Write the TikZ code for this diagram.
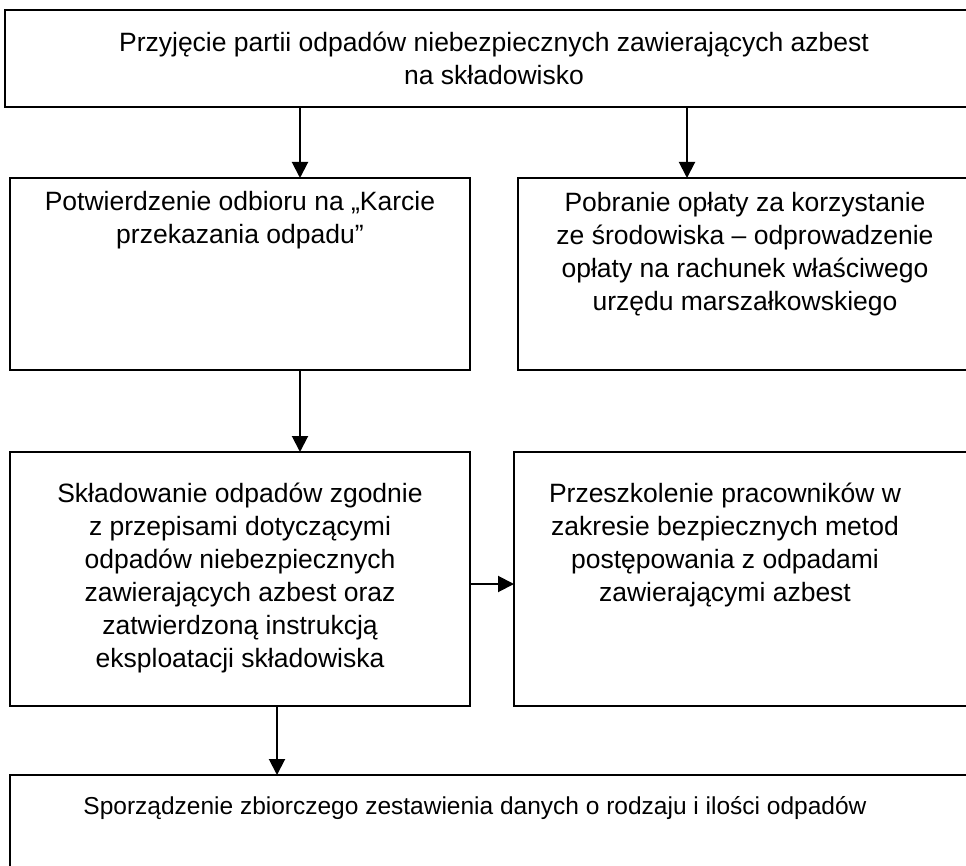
\documentclass[tikz,border=0pt]{standalone}
\usepackage{fontspec}
\setmainfont{Liberation Sans}
\usetikzlibrary{arrows.meta}
\begin{document}
\begin{tikzpicture}[x=1pt,y=-1pt,
  box/.style={draw=black,line width=2pt,anchor=north west,inner sep=0pt,outer sep=0pt},
  txt/.style={align=center,inner sep=0pt,font=\fontsize{26.5}{33}\selectfont},
  arr/.style={line width=2pt,-{Triangle[length=16pt,width=16pt]}}]
\useasboundingbox (0,0) rectangle (966,866);
\clip (0,0) rectangle (966,866);
\fill[white] (0,0) rectangle (966,866);
\node[box,minimum width=1000pt,minimum height=97pt] (top) at (5,10) {};
\node[box,minimum width=460pt,minimum height=192pt] (b2) at (10,178) {};
\node[box,minimum width=500pt,minimum height=192pt] (b3) at (518,178) {};
\node[box,minimum width=460pt,minimum height=254pt] (b4) at (10,452) {};
\node[box,minimum width=500pt,minimum height=254pt] (b5) at (514,452) {};
\node[box,minimum width=1000pt,minimum height=200pt] (b6) at (10,775) {};
\node[txt] (t1) at (494,58) {Przyjęcie partii odpadów niebezpiecznych zawierających azbest\\na składowisko};
\node[txt] (t2) at (240,220) {Potwierdzenie odbioru na „Karcie\\przekazania odpadu”};
\node[txt] (t3) at (745,254) {Pobranie opłaty za korzystanie\\ze środowiska – odprowadzenie\\opłaty na rachunek właściwego\\urzędu marszałkowskiego};
\node[txt] (t4) at (240,578) {Składowanie odpadów zgodnie\\z przepisami dotyczącymi\\odpadów niebezpiecznych\\zawierających azbest oraz\\zatwierdzoną instrukcją\\eksploatacji składowiska};
\node[txt] (t5) at (725,545) {Przeszkolenie pracowników w\\zakresie bezpiecznych metod\\postępowania z odpadami\\zawierającymi azbest};
\node[txt,font=\fontsize{24.5}{30}\selectfont] (t6) at (475,808) {Sporządzenie zbiorczego zestawienia danych o rodzaju i ilości odpadów};
\coordinate (c1) at (300,0);
\coordinate (c2) at (687,0);
\coordinate (c3) at (300,0);
\coordinate (c4) at (277,0);
\coordinate (c5) at (0,584);
\draw[arr] (top.south -| c1) -- (b2.north -| c1);
\draw[arr] (top.south -| c2) -- (b3.north -| c2);
\draw[arr] (b2.south -| c3) -- (b4.north -| c3);
\draw[arr] (b4.east |- c5) -- (b5.west |- c5);
\draw[arr] (b4.south -| c4) -- (b6.north -| c4);
\end{tikzpicture}
\end{document}
